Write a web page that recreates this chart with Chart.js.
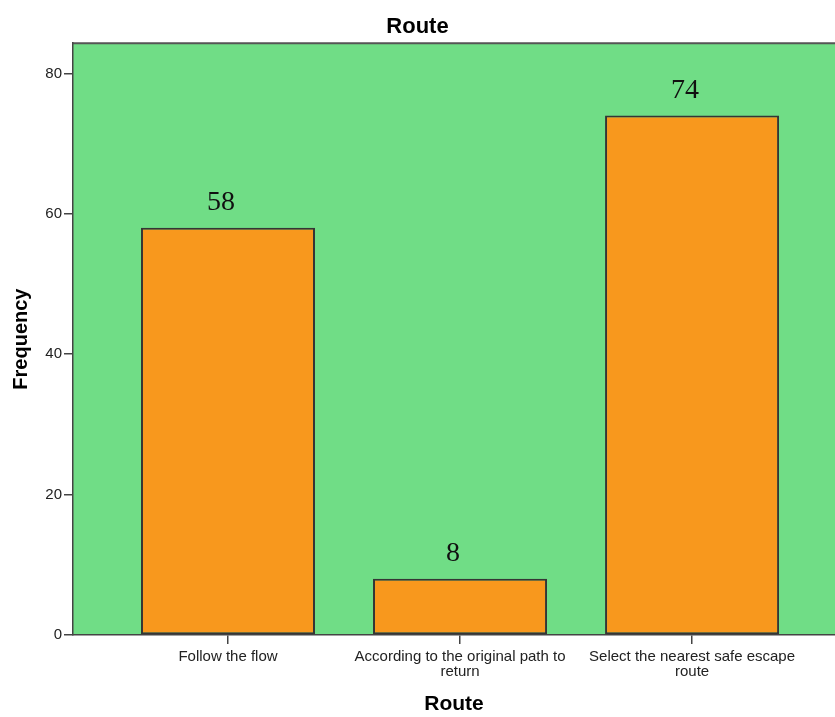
<!DOCTYPE html>
<html>
<head>
<meta charset="utf-8">
<script src="https://cdn.jsdelivr.net/npm/chart.js@4.4.1/dist/chart.umd.min.js"></script>
<style>
  html, body { margin: 0; padding: 0; background: #ffffff; }
  #wrap { width: 835px; height: 717px; }
</style>
</head>
<body>
<div id="wrap"><canvas id="chart" width="835" height="717"></canvas></div>
<script>
// Route choices and how many respondents picked each
const categories = [
  'Follow the flow',
  'According to the original path to return',
  'Select the nearest safe escape route'
];
const frequencies = [58, 8, 74];
const yTicks = [0, 20, 40, 60, 80];

const plotGreen = '#70DD86';
const barOrange = '#F8981D';
const axisGray = '#444444';

// wrap a category name into lines of at most maxChars characters
function wrapLabel(text, maxChars) {
  const words = text.split(' ');
  const lines = [];
  let line = '';
  for (const w of words) {
    const next = line ? line + ' ' + w : w;
    if (next.length > maxChars && line) { lines.push(line); line = w; }
    else line = next;
  }
  if (line) lines.push(line);
  return lines;
}

const points = frequencies.map((v, i) => ({ x: i, y: v }));

// green plot background and top frame line
const plotBackground = {
  id: 'plotBackground',
  beforeDraw(chart) {
    const { ctx, chartArea: a } = chart;
    ctx.save();
    ctx.fillStyle = plotGreen;
    ctx.fillRect(a.left, a.top, a.right - a.left, a.bottom - a.top);
    ctx.strokeStyle = '#555555';
    ctx.lineWidth = 2;
    ctx.beginPath();
    ctx.moveTo(a.left, a.top);
    ctx.lineTo(a.right, a.top);
    ctx.stroke();
    ctx.restore();
  }
};

// value written above each bar
const valueLabels = {
  id: 'valueLabels',
  afterDatasetsDraw(chart) {
    const { ctx } = chart;
    const meta = chart.getDatasetMeta(0);
    ctx.save();
    ctx.fillStyle = '#111111';
    ctx.font = '28px "Liberation Serif", "Times New Roman", serif';
    ctx.textAlign = 'center';
    ctx.textBaseline = 'alphabetic';
    meta.data.forEach((bar, i) => {
      ctx.fillText(String(frequencies[i]), bar.x - 7, bar.y - 18);
    });
    ctx.restore();
  }
};

new Chart(document.getElementById('chart'), {
  type: 'bar',
  data: {
    datasets: [{
      label: 'Frequency',
      data: points,
      backgroundColor: barOrange,
      borderColor: '#353535',
      borderWidth: 2,
      borderSkipped: false,
      barPercentage: 0.75,
      categoryPercentage: 1.0
    }]
  },
  options: {
    responsive: false,
    animation: false,
    layout: { padding: { left: 0, right: 0, top: 0, bottom: 0 } },
    plugins: {
      legend: { display: false },
      tooltip: { enabled: false },
      title: {
        display: true,
        text: 'Route',
        color: '#000000',
        font: { family: '"Liberation Sans", Arial, sans-serif', size: 22, weight: 'bold', lineHeight: 1.1 },
        padding: { top: 15, bottom: 4 }
      }
    },
    scales: {
      x: {
        type: 'linear',
        offset: false,
        min: -0.668,
        max: 2.616,
        afterBuildTicks(scale) {
          scale.ticks = categories.map((_, i) => ({ value: i }));
        },
        afterFit(scale) { scale.height = 82; },
        ticks: {
          color: '#222222',
          font: { family: '"Liberation Sans", Arial, sans-serif', size: 15, lineHeight: 1.0 },
          padding: 5,
          maxRotation: 0,
          autoSkip: false,
          callback(value) {
            const i = Math.round(value);
            return categories[i] !== undefined ? wrapLabel(categories[i], 34) : '';
          }
        },
        grid: {
          display: true,
          offset: false,
          drawOnChartArea: false,
          drawTicks: true,
          tickLength: 9,
          color: axisGray,
          lineWidth: 1.5
        },
        border: { display: true, color: axisGray, width: 1.5 },
        title: {
          display: true,
          text: 'Route',
          color: '#000000',
          font: { family: '"Liberation Sans", Arial, sans-serif', size: 21, weight: 'bold', lineHeight: 1.2 },
          padding: { top: 0, bottom: 0 }
        }
      },
      y: {
        min: 0,
        max: 84.3,
        afterBuildTicks(scale) {
          scale.ticks = yTicks.map(v => ({ value: v }));
        },
        afterFit(scale) { scale.width = 73; },
        ticks: {
          color: '#222222',
          font: { family: '"Liberation Sans", Arial, sans-serif', size: 15 },
          padding: 2
        },
        grid: {
          display: true,
          drawOnChartArea: false,
          drawTicks: true,
          tickLength: 9,
          color: axisGray,
          lineWidth: 1.5
        },
        border: { display: true, color: axisGray, width: 1.5 },
        title: {
          display: true,
          text: 'Frequency',
          color: '#000000',
          font: { family: '"Liberation Sans", Arial, sans-serif', size: 20, weight: 'bold', lineHeight: 1.2 },
          padding: { top: 9, bottom: 0 }
        }
      }
    }
  },
  plugins: [plotBackground, valueLabels]
});
</script>
</body>
</html>
